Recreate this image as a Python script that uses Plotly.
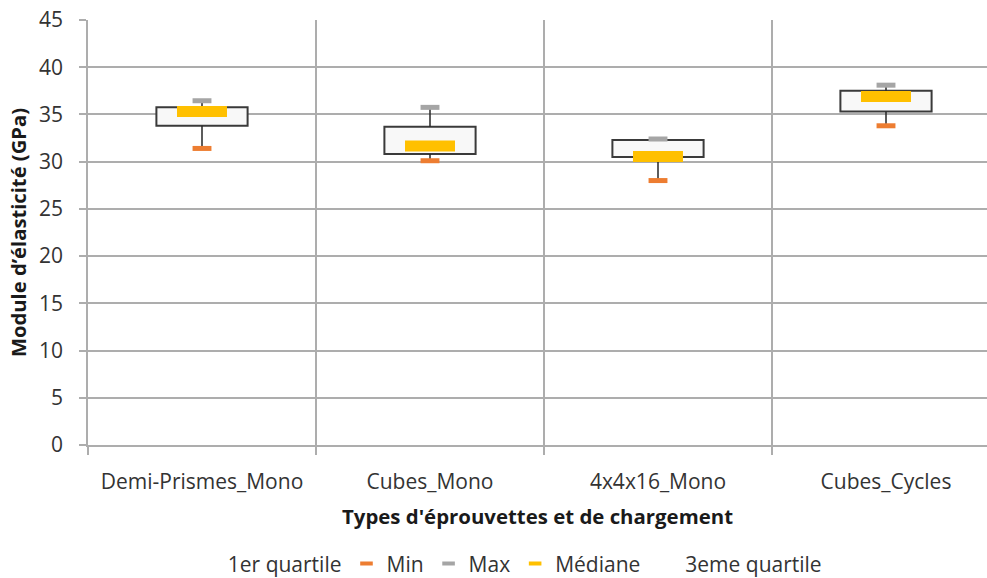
import plotly.graph_objects as go

# Box-plot summary of elastic modulus per specimen type / loading
categories = ["Demi-Prismes_Mono", "Cubes_Mono", "4x4x16_Mono", "Cubes_Cycles"]
q1_vals = [33.8, 30.8, 30.5, 35.3]
q3_vals = [35.75, 33.7, 32.3, 37.5]
min_vals = [31.4, 30.1, 28.0, 33.8]
max_vals = [36.45, 35.75, 32.4, 38.1]
median_vals = [35.3, 31.65, 30.55, 36.9]

y_ticks = list(range(0, 46, 5))

ORANGE = "#ED7D31"
GREY = "#A5A5A5"
GOLD = "#FFC000"
GRID = "#ADADAD"
TEXT = "#333333"
FONT = "Open Sans"

xs = list(range(len(categories)))

fig = go.Figure()

# Legend entries (same order as the Excel legend)
fig.add_trace(go.Scatter(x=xs, y=q1_vals, mode="markers", name="1er quartile",
                         marker=dict(color="rgba(0,0,0,0)", size=1), hoverinfo="skip"))
for name, col in [("Min", ORANGE), ("Max", GREY), ("Médiane", GOLD)]:
    fig.add_trace(go.Scatter(x=[None], y=[None], mode="markers", name=name,
                             marker=dict(symbol="line-ew", size=9,
                                         line=dict(color=col, width=4))))
fig.add_trace(go.Scatter(x=xs, y=q3_vals, mode="markers", name="3eme quartile",
                         marker=dict(color="rgba(0,0,0,0)", size=1), hoverinfo="skip"))

# Box between first and third quartile
fig.add_trace(go.Bar(x=xs, y=[b - a for a, b in zip(q1_vals, q3_vals)], base=q1_vals,
                     width=0.4, showlegend=False,
                     marker=dict(color="#F8F8F8", line=dict(color="#3A3A3A", width=2))))

# Whiskers: min -> Q1 and Q3 -> max
wx, wy = [], []
for x, lo, a, b, hi in zip(xs, min_vals, q1_vals, q3_vals, max_vals):
    wx += [x, x, None, x, x, None]
    wy += [lo, a, None, b, hi, None]
fig.add_trace(go.Scatter(x=wx, y=wy, mode="lines", showlegend=False,
                         line=dict(color="#262626", width=1.5), hoverinfo="skip"))

# Min / Max / Median dashes
fig.add_trace(go.Scatter(x=xs, y=min_vals, mode="markers", showlegend=False,
                         marker=dict(symbol="line-ew", size=13.5, line=dict(color=ORANGE, width=5))))
fig.add_trace(go.Scatter(x=xs, y=max_vals, mode="markers", showlegend=False,
                         marker=dict(symbol="line-ew", size=13.5, line=dict(color=GREY, width=5))))
fig.add_trace(go.Scatter(x=xs, y=median_vals, mode="markers", showlegend=False,
                         marker=dict(symbol="line-ew", size=35.7, line=dict(color=GOLD, width=11))))

fig.update_layout(
    width=987, height=578,
    margin=dict(l=88, r=0, t=20, b=133, autoexpand=False),
    paper_bgcolor="white", plot_bgcolor="white",
    font=dict(family=FONT, size=21, color=TEXT),
    showlegend=True,
    legend=dict(orientation="h", x=0.111, xanchor="left", y=-0.2315, yanchor="top",
                font=dict(family=FONT, size=21, color=TEXT), traceorder="normal",
                bgcolor="rgba(0,0,0,0)"),
    xaxis=dict(
        range=[-0.5, 3.443], tickvals=xs, ticktext=categories,
        showgrid=False, zeroline=False, showline=True, linecolor=GRID, linewidth=1.5,
        ticks="", ticklabelstandoff=17,
        tickfont=dict(family=FONT, size=21, color=TEXT),
        minor=dict(tick0=-0.5, dtick=1, showgrid=True, gridcolor=GRID, gridwidth=1.5,
                   ticks="outside", ticklen=8, tickcolor=GRID, tickwidth=1.5),
        title=dict(text="Types d'éprouvettes et de chargement", standoff=16,
                   font=dict(family=FONT, size=20.4, color="#1a1a1a", weight="bold")),
        fixedrange=True,
    ),
    yaxis=dict(
        range=[0, 45], tickvals=y_ticks, showgrid=True, gridcolor=GRID, gridwidth=1.5,
        zeroline=False, showline=True, linecolor=GRID, linewidth=1.5,
        ticks="outside", ticklen=7, tickcolor=GRID, tickwidth=1.5, ticklabelstandoff=12,
        tickfont=dict(family=FONT, size=21, color=TEXT),
        title=dict(text="Module d’élasticité (GPa)", standoff=7,
                   font=dict(family=FONT, size=20.2, color="#1a1a1a", weight="bold")),
        fixedrange=True,
    ),
    bargap=0.6,
)

fig.write_html("out.html", config={"displayModeBar": False})
